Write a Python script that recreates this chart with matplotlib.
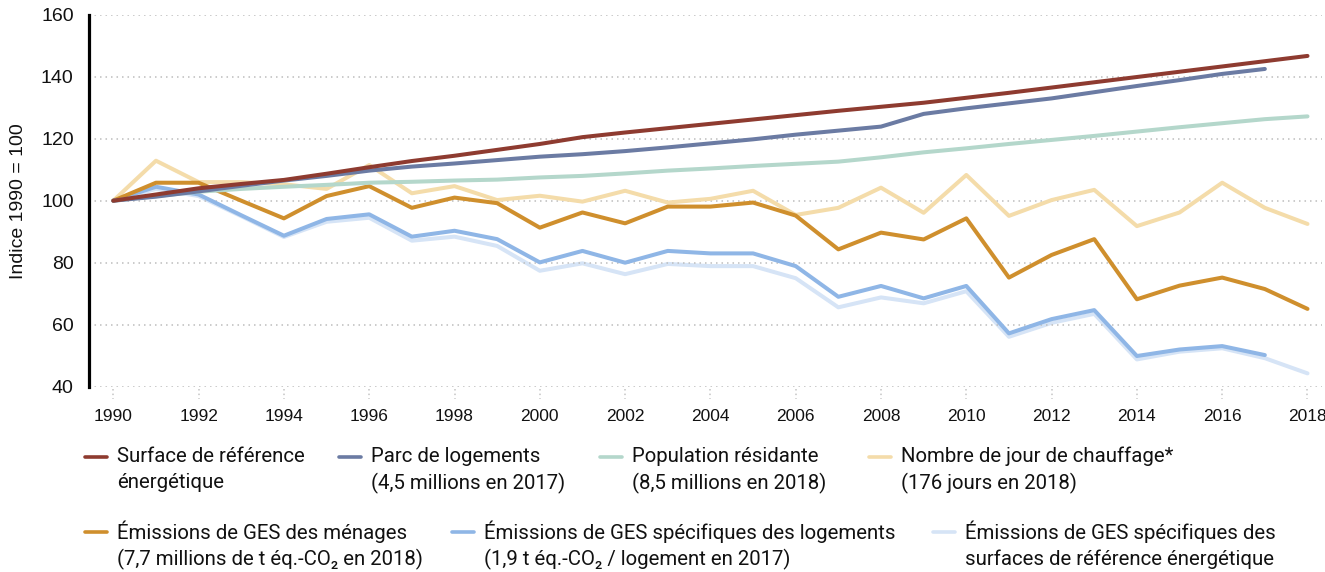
import matplotlib
matplotlib.use("Agg")
import matplotlib.pyplot as plt
from matplotlib.lines import Line2D
import matplotlib.transforms as mtransforms

years = list(range(1990, 2019))

surface_ref = [100, 102, 104, 105.4, 106.7, 108.7, 110.8, 112.8, 114.5, 116.4,
               118.3, 120.5, 122, 123.4, 124.8, 126.2, 127.6, 129, 130.3, 131.6,
               133.2, 134.8, 136.5, 138.2, 139.9, 141.6, 143.3, 145, 146.7]
parc_logements = [100, 101.3, 103, 104.8, 106.5, 108, 109.7, 111, 112, 113.1,
                  114.2, 115, 116, 117.2, 118.5, 119.8, 121.3, 122.6, 123.9, 128,
                  129.8, 131.4, 133, 135, 137, 138.9, 140.9, 142.5]
population = [100, 101.5, 102.9, 103.8, 104.5, 105.1, 105.8, 106.1, 106.5, 106.8,
              107.5, 108, 108.8, 109.7, 110.4, 111.2, 111.9, 112.6, 114, 115.6,
              116.9, 118.3, 119.6, 120.9, 122.3, 123.7, 125, 126.3, 127.2]
jours_chauffage = [100, 112.9, 106, 106, 105.3, 103.8, 111.5, 102.4, 104.7, 100.2,
                   101.6, 99.7, 103.2, 99.4, 100.6, 103.2, 95.4, 97.7, 104.2, 96.1,
                   108.3, 95.1, 100.2, 103.5, 91.8, 96.2, 105.8, 97.7, 92.5]
ges_menages = [100, 105.8, 105.8, 100, 94.3, 101.5, 104.7, 97.7, 101, 99.2,
               91.3, 96.2, 92.7, 98.1, 98.1, 99.4, 95.2, 84.3, 89.7, 87.5,
               94.3, 75.2, 82.5, 87.6, 68.2, 72.6, 75.2, 71.5, 65.1]
ges_logements = [100, 104.5, 102, 95.3, 88.7, 94.1, 95.6, 88.4, 90.3, 87.6,
                 80.1, 83.8, 80, 83.8, 83, 83, 78.9, 69, 72.5, 68.5,
                 72.5, 57.2, 61.8, 64.7, 49.9, 52, 53.1, 50.2]
ges_surfaces = [100, 103.8, 101.5, 95, 88.3, 93.2, 94.5, 87.1, 88.4, 85.4,
                77.4, 79.8, 76.3, 79.6, 78.9, 78.9, 75, 65.6, 68.8, 66.9,
                70.8, 56.1, 60.6, 63.5, 48.8, 51.3, 52.4, 49.2, 44.3]

labels = [
    ["Surface de référence", "énergétique"],
    ["Parc de logements", "(4,5 millions en 2017)"],
    ["Population résidante", "(8,5 millions en 2018)"],
    ["Nombre de jour de chauffage*", "(176 jours en 2018)"],
    ["Émissions de GES des ménages", "(7,7 millions de t éq.-CO₂ en 2018)"],
    ["Émissions de GES spécifiques des logements", "(1,9 t éq.-CO₂ / logement en 2017)"],
    ["Émissions de GES spécifiques des", "surfaces de référence énergétique"],
]
colors = ["#8e3b30", "#6b7ba3", "#b4d7cb", "#f4dcaa", "#cf8f2d", "#8fb6e6", "#d6e4f6"]
series = [surface_ref, parc_logements, population, jours_chauffage,
          ges_menages, ges_logements, ges_surfaces]
zorders = [7, 6, 5, 3, 4, 2, 1]

yticks = [40, 60, 80, 100, 120, 140, 160]
xticks = list(range(1990, 2019, 2))

W, H = 1325, 572
fig = plt.figure(figsize=(W / 100, H / 100), dpi=100)
ax_l, ax_r, ax_t, ax_b = 89, 1322, 14.7, 386.7
ax = fig.add_axes([ax_l / W, 1 - ax_b / H, (ax_r - ax_l) / W, (ax_b - ax_t) / H])

for s, c, z in zip(series, colors, zorders):
    ax.plot(years[:len(s)], s, color=c, lw=2.9, zorder=z,
            solid_capstyle="round", solid_joinstyle="round")

ax.set_ylim(40, 160)
ax.set_xlim(1989.43, 2018.34)
ax.set_yticks(yticks)
ax.set_xticks(xticks)
ax.tick_params(axis="y", length=0, pad=11, labelsize=14)
ax.tick_params(axis="x", length=0, pad=16, labelsize=12.5)
for lab in ax.get_xticklabels() + ax.get_yticklabels():
    lab.set_fontfamily("Liberation Sans")
    lab.set_color("#111111")
ax.yaxis.grid(True, color="#bdbdbd", linestyle=(0, (1, 2.6)), lw=1.1, zorder=0)
for sp in ["top", "right", "bottom"]:
    ax.spines[sp].set_visible(False)
ax.spines["left"].set_linewidth(2.3)
ax.spines["left"].set_color("black")

trans = mtransforms.blended_transform_factory(ax.transData, ax.transAxes)
ax.vlines(xticks, -0.006, -0.032, transform=trans, colors="#c4c4c4",
          linestyles=(0, (1, 2)), lw=1.1, clip_on=False)

fig.text(19 / W, 1 - 201 / H, "Indice 1990 = 100", rotation=90, ha="center",
         va="center", fontsize=14, family="Liberation Sans", color="#111111")

# Legend
row_y = [(456.7, 483), (532, 559)]
hx = [85, 339, 600, 869, 85, 452, 933]
rows = [0, 0, 0, 0, 1, 1, 1]
for lab, c, x0, r in zip(labels, colors, hx, rows):
    y1, y2 = row_y[r]
    fig.add_artist(Line2D([x0 / W, (x0 + 22) / W], [1 - y1 / H, 1 - y1 / H],
                          transform=fig.transFigure, color=c, lw=2.6,
                          solid_capstyle="round"))
    for txt, yy in zip(lab, (y1, y2)):
        fig.text((x0 + 32) / W, 1 - yy / H, txt, ha="left", va="center",
                 fontsize=14.7, family=["Roboto", "DejaVu Sans"], color="#111111")

fig.savefig("out.png", dpi=100)
